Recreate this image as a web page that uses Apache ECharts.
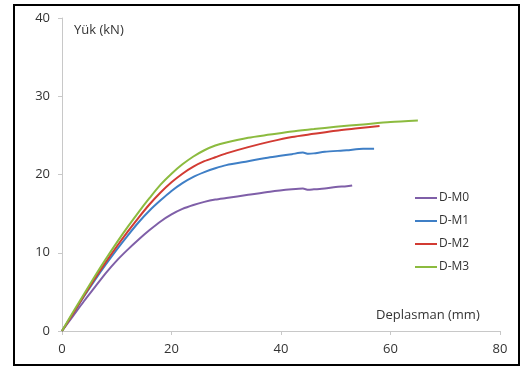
<!DOCTYPE html>
<html>
<head>
<meta charset="utf-8">
<script src="https://cdn.jsdelivr.net/npm/echarts@6/dist/echarts.min.js"></script>
<style>html,body{margin:0;padding:0;background:#fff;}#c{width:527px;height:367px;}</style>
</head>
<body>
<div id="c"></div>
<script>
const seriesNames = ['D-M0', 'D-M1', 'D-M2', 'D-M3'];
const xTicks = [0, 20, 40, 60, 80];
const yTicks = [0, 10, 20, 30, 40];

const dm0X = [0, 2, 4, 6, 8, 10, 12, 14, 16, 18, 20, 22, 24, 26, 28, 30, 34, 38, 42, 44, 45, 46, 48, 50, 52, 53];
const dm0Y = [0, 1.9, 3.8, 5.6, 7.4, 9.0, 10.4, 11.7, 12.9, 14.0, 14.9, 15.6, 16.1, 16.5, 16.8, 17.0, 17.4, 17.8, 18.1, 18.2, 18.05, 18.1, 18.2, 18.4, 18.5, 18.6];

const dm1X = [0, 2, 4, 6, 8, 10, 12, 14, 16, 18, 20, 22, 24, 26, 28, 30, 34, 38, 42, 44, 45, 46, 48, 52, 55, 57];
const dm1Y = [0, 2.2, 4.4, 6.5, 8.5, 10.4, 12.2, 13.9, 15.4, 16.7, 17.9, 18.9, 19.7, 20.3, 20.8, 21.2, 21.7, 22.2, 22.6, 22.8, 22.65, 22.7, 22.9, 23.1, 23.3, 23.3];

const dm2X = [0, 2, 4, 6, 8, 10, 12, 14, 16, 18, 20, 22, 24, 26, 28, 30, 34, 38, 42, 46, 50, 54, 58];
const dm2Y = [0, 2.2, 4.5, 6.7, 8.8, 10.8, 12.7, 14.5, 16.2, 17.7, 19.0, 20.1, 21.0, 21.7, 22.2, 22.7, 23.5, 24.2, 24.8, 25.2, 25.6, 25.9, 26.2];

const dm3X = [0, 2, 4, 6, 8, 10, 12, 14, 16, 18, 20, 22, 24, 26, 28, 30, 34, 38, 42, 46, 50, 55, 60, 65];
const dm3Y = [0, 2.4, 4.7, 7.0, 9.2, 11.3, 13.3, 15.2, 17.0, 18.7, 20.1, 21.3, 22.3, 23.1, 23.7, 24.1, 24.7, 25.1, 25.5, 25.8, 26.1, 26.4, 26.7, 26.9];

const colors = ['#7F5FA8', '#3F7FC6', '#D23B33', '#8CBB3F'];
const xs = [dm0X, dm1X, dm2X, dm3X];
const ys = [dm0Y, dm1Y, dm2Y, dm3Y];

const font = '"Open Sans", "DejaVu Sans", sans-serif';
const chart = echarts.init(document.getElementById('c'), null, {renderer: 'canvas'});
chart.setOption({
  animation: false,
  backgroundColor: '#fff',
  grid: {left: 62, right: 27, top: 18, bottom: 36},
  xAxis: {
    type: 'value', min: xTicks[0], max: xTicks[xTicks.length - 1], interval: 20,
    axisLine: {show: true, lineStyle: {color: '#C8C8C8', width: 1}},
    axisTick: {show: true, length: 4, lineStyle: {color: '#C8C8C8'}},
    splitLine: {show: false},
    axisLabel: {color: '#333', fontSize: 13, fontFamily: font, margin: 12}
  },
  yAxis: {
    type: 'value', min: yTicks[0], max: yTicks[yTicks.length - 1], interval: 10,
    axisLine: {show: true, lineStyle: {color: '#C8C8C8', width: 1}},
    axisTick: {show: true, length: 4, lineStyle: {color: '#C8C8C8'}},
    splitLine: {show: false},
    axisLabel: {color: '#333', fontSize: 13, fontFamily: font, margin: 12}
  },
  legend: {
    orient: 'vertical', left: 410, top: 187, itemGap: 11,
    itemWidth: 22, itemHeight: 2,
    textStyle: {color: '#333', fontSize: 12, fontFamily: font, padding: [0, 0, 0, -3]},
    data: seriesNames.map(n => ({name: n, icon: 'rect'}))
  },
  graphic: [
    {type: 'rect', shape: {x: 14, y: 5, width: 505, height: 360}, style: {fill: 'none', stroke: '#000', lineWidth: 2}, silent: true},
    {type: 'text', left: 74, top: 24, style: {text: 'Yük (kN)', fill: '#333', font: '13px ' + font}},
    {type: 'text', left: 376, top: 309, style: {text: 'Deplasman (mm)', fill: '#333', font: '13px ' + font}}
  ],
  series: seriesNames.map((n, i) => ({
    name: n, type: 'line', showSymbol: false, symbol: 'none', smooth: 0.25,
    lineStyle: {color: colors[i], width: 2}, itemStyle: {color: colors[i]},
    data: xs[i].map((x, j) => [x, ys[i][j]])
  }))
});
</script>
</body>
</html>
